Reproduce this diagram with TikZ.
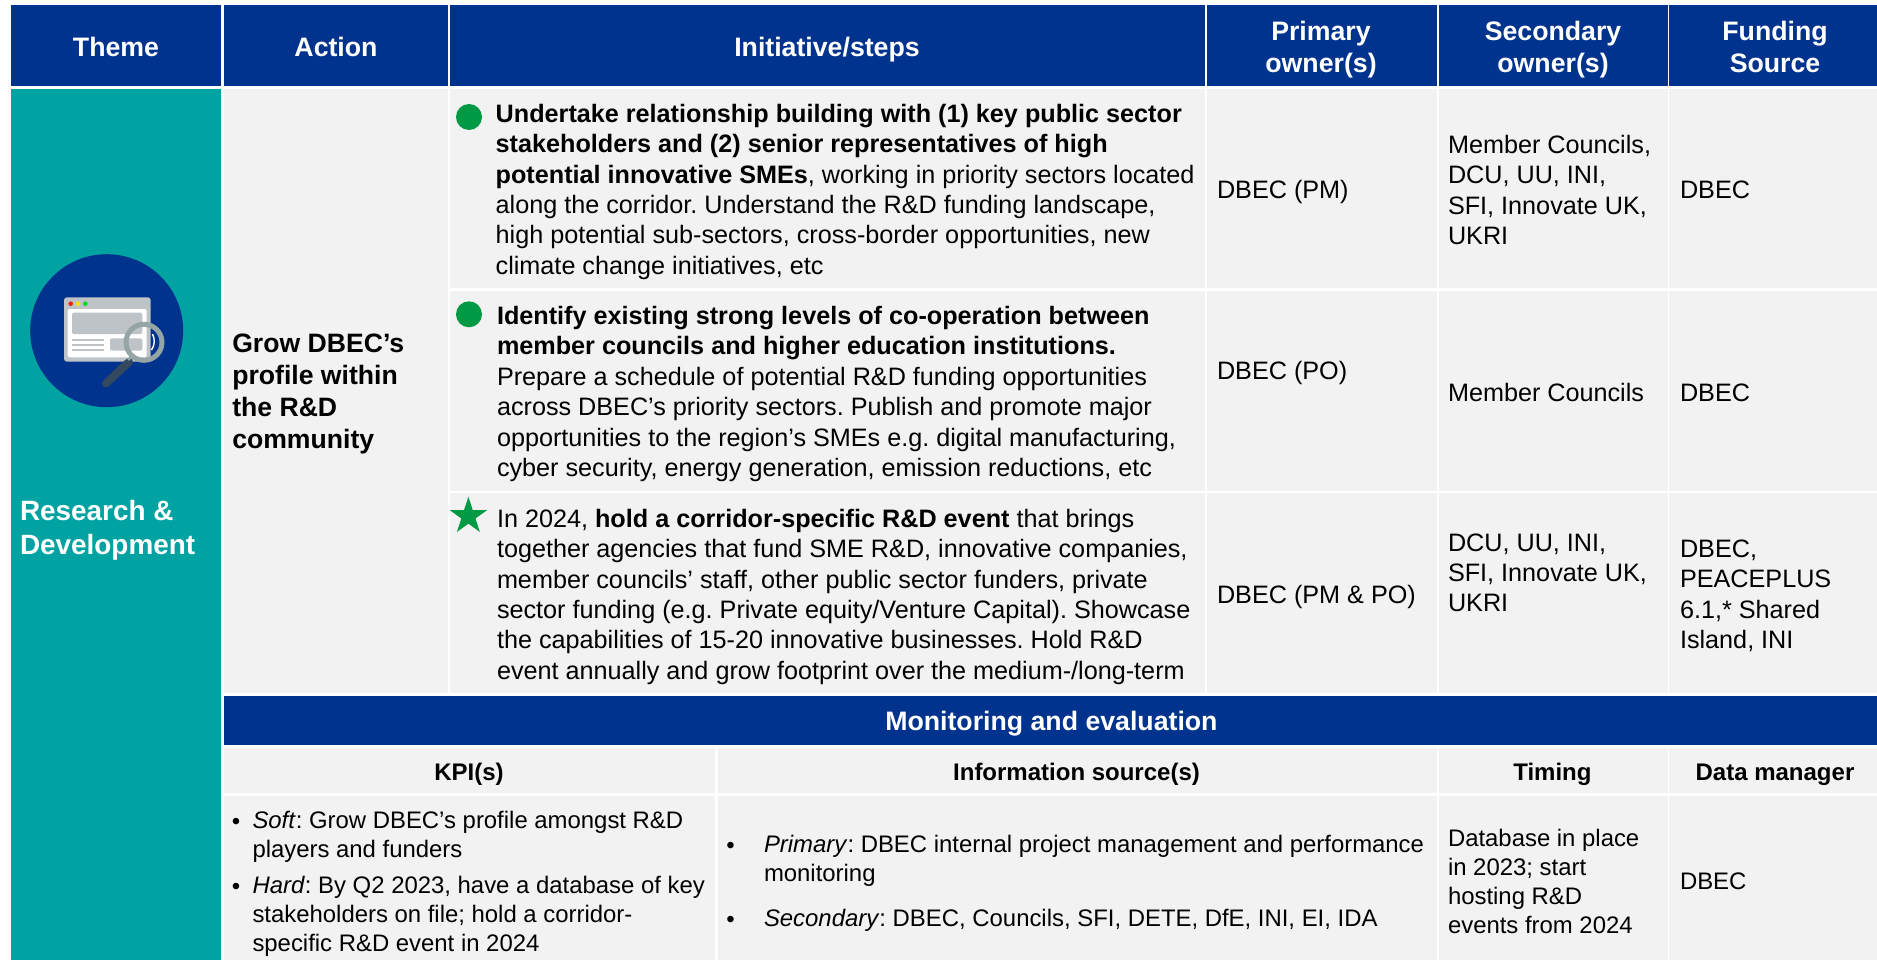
\documentclass[tikz,border=0pt]{standalone}
\usepackage{fontspec}
\setmainfont{Liberation Sans}
\usetikzlibrary{shapes.geometric}
\definecolor{navy}{HTML}{00338D}
\definecolor{teal2}{HTML}{00A3A1}
\definecolor{cellgrey}{HTML}{F2F2F2}
\definecolor{mark}{HTML}{009A44}
\definecolor{winGrey}{HTML}{BDC3C7}
\definecolor{ringGrey}{HTML}{95A5A6}
\definecolor{handle}{HTML}{34495E}
\tikzset{
  x=1pt,y=-1pt,
  every node/.append style={execute at begin node=\frenchspacing},
  navycell/.style={fill=navy,draw=none},
  greycell/.style={fill=cellgrey,draw=none},
  txt/.style={inner sep=0pt,outer sep=0pt,text=black},
  body/.style={txt,anchor=north west,align=left,font=\fontsize{25.2}{30.4}\selectfont,yshift=21.28pt},
  small/.style={txt,anchor=north west,align=left,font=\fontsize{23.9}{29}\selectfont,yshift=20.3pt},
  one/.style={txt,anchor=base west,font=\fontsize{25.2}{30}\selectfont},
  headtxt/.style={txt,anchor=base,text=white,font=\fontsize{26.7}{31.7}\selectfont\bfseries},
  headtwo/.style={txt,anchor=north,align=center,text=white,font=\fontsize{26.7}{31.7}\selectfont\bfseries,yshift=22.19pt},
  subhead/.style={txt,anchor=base,font=\fontsize{24}{29}\selectfont\bfseries},
  bull/.style={txt,anchor=base,font=\fontsize{24}{29}\selectfont},
  dotmark/.style={circle,fill=mark,draw=none,minimum size=26pt,inner sep=0pt},
  starmark/.style={star,star points=5,star point ratio=2.618,fill=mark,draw=none,minimum size=39pt,inner sep=0pt},
}
\begin{document}
\begin{tikzpicture}
\useasboundingbox (0,0) rectangle (1877,960);
\fill[white] (0,0) rectangle (1877,960);
% header band
\fill[navycell] (11,5) rectangle (221,86);
\fill[navycell] (223.5,5) rectangle (447.5,86);
\fill[navycell] (450,5) rectangle (1204.5,86);
\fill[navycell] (1207,5) rectangle (1436.5,86);
\fill[navycell] (1438.7,5) rectangle (1667.6,86);
\fill[navycell] (1669.3,5) rectangle (1877,86);
% theme
\fill[teal2] (11,89) rectangle (221,960);
% action
\fill[greycell] (223.5,89) rectangle (447.5,693);
% rows
\foreach \ya/\yb in {89/288,290.5/491,493/693}{
  \fill[greycell] (450,\ya) rectangle (1204.5,\yb);
  \fill[greycell] (1207,\ya) rectangle (1436.5,\yb);
  \fill[greycell] (1438.7,\ya) rectangle (1667.6,\yb);
  \fill[greycell] (1669.3,\ya) rectangle (1877,\yb);
}
% monitoring band
\fill[navycell] (223.5,695.7) rectangle (1877,745);
\foreach \ya/\yb in {747.5/793,796/960}{
  \fill[greycell] (223.5,\ya) rectangle (715.3,\yb);
  \fill[greycell] (717.7,\ya) rectangle (1436.5,\yb);
  \fill[greycell] (1438.7,\ya) rectangle (1667.6,\yb);
  \fill[greycell] (1669.3,\ya) rectangle (1877,\yb);
}
% icon
\fill[navy] (106.7,330.7) circle (76.5);
\fill[winGrey,rounded corners=3pt] (64,297.3) rectangle (150.7,361.7);
\fill[white,rounded corners=1.5pt] (67.7,309) rectangle (146.7,357.3);
\fill[winGrey,rounded corners=1.5pt] (72,312.7) rectangle (142.3,334);
\fill[winGrey,rounded corners=1.5pt] (110,338.3) rectangle (142.3,350.7);
\foreach \yy in {340,345,350}{\fill[winGrey] (72,\yy-1) rectangle (104.3,\yy+1);}
\fill[red!75!orange] (70.7,303.7) circle (2.3);
\fill[yellow!85!orange] (78,303.7) circle (2.3);
\fill[green!70!teal] (85.3,303.7) circle (2.3);
\draw[white,line width=1.4pt] (152.5,334) .. controls (155,339) and (155,345) .. (151.5,350);
\draw[handle,line width=8pt,line cap=round] (129,362) -- (106,383.5);
\draw[ringGrey,line width=2.5pt] (132,356) -- (128,360);
\draw[ringGrey,line width=5pt] (144,342.3) circle (18);
% header texts
\node[headtxt] (hTheme) at (116,56.5) {Theme};
\node[headtxt] (hAction) at (336,56.5) {Action};
\node[headtxt] (hInit) at (827,56.5) {Initiative/steps};
\node[headtwo] (hPrim) at (1321,40.5) {\strut Primary\\owner(s)};
\node[headtwo] (hSec) at (1553,40.5) {\strut Secondary\\owner(s)};
\node[headtwo] (hFund) at (1775,40.5) {\strut Funding\\Source};
% theme and action text
\node[txt,anchor=north west,align=left,text=white,font=\fontsize{27.9}{33.4}\selectfont\bfseries,yshift=23.38pt] (theme) at (20,520.7) {\strut Research \&\\Development};
\node[txt,anchor=north west,align=left,font=\fontsize{26.6}{32}\selectfont\bfseries,yshift=22.4pt] (action) at (232.3,352.7) {\strut Grow DBEC’s\\profile within\\the R\&D\\community};
% status marks
\node[dotmark] (m1) at (469,117) {};
\node[dotmark] (m2) at (469,314.3) {};
\node[starmark] (m3) at (468.4,516.2) {};
% initiatives
\node[body] (i1) at (495.7,122.2) {\strut\textbf{Undertake relationship building with (1) key public sector}\\\textbf{stakeholders and (2) senior representatives of high}\\\textbf{potential innovative SMEs}, working in priority sectors located\\along the corridor. Understand the R\&D funding landscape,\\high potential sub-sectors, cross-border opportunities, new\\climate change initiatives, etc};
\node[body] (i2) at (497,324.5) {\strut\textbf{Identify existing strong levels of co-operation between}\\\textbf{member councils and higher education institutions.}\\Prepare a schedule of potential R\&D funding opportunities\\across DBEC’s priority sectors. Publish and promote major\\opportunities to the region’s SMEs e.g. digital manufacturing,\\cyber security, energy generation, emission reductions, etc};
\node[body] (i3) at (497,527.3) {\strut In 2024, \textbf{hold a corridor-specific R\&D event} that brings\\together agencies that fund SME R\&D, innovative companies,\\member councils’ staff, other public sector funders, private\\sector funding (e.g. Private equity/Venture Capital). Showcase\\the capabilities of 15-20 innovative businesses. Hold R\&D\\event annually and grow footprint over the medium-/long-term};
% owners
\node[one] (p1) at (1217,199) {DBEC (PM)};
\node[one] (p2) at (1217,379) {DBEC (PO)};
\node[one] (p3) at (1217,603) {DBEC (PM \& PO)};
\node[body] (s1) at (1448,153.3) {\strut Member Councils,\\DCU, UU, INI,\\SFI, Innovate UK,\\UKRI};
\node[one] (s2) at (1448,401) {Member Councils};
\node[body] (s3) at (1448,551) {\strut DCU, UU, INI,\\SFI, Innovate UK,\\UKRI};
\node[one] (f1) at (1680,199) {DBEC};
\node[one] (f2) at (1680,401) {DBEC};
\node[body] (f3) at (1680,557.3) {\strut DBEC,\\PEACEPLUS\\6.1,* Shared\\Island, INI};
% monitoring
\node[headtxt] (mHead) at (1051.4,730) {Monitoring and evaluation};
\node[subhead] (kHead) at (469,780) {KPI(s)};
\node[subhead] (iHead) at (1076.5,780) {Information source(s)};
\node[subhead] (tHead) at (1552.4,780) {Timing};
\node[subhead] (dHead) at (1775,780) {Data manager};
\node[bull] (kb1) at (236,829) {•};
\node[small] (k1) at (252.5,828.3) {\strut\textit{Soft}: Grow DBEC’s profile amongst R\&D\\players and funders};
\node[bull] (kb2) at (236,894) {•};
\node[small] (k2) at (252.5,893.3) {\strut\textit{Hard}: By Q2 2023, have a database of key\\stakeholders on file; hold a corridor-\\specific R\&D event in 2024};
\node[bull] (ib1) at (730.5,853) {•};
\node[small] (is1) at (764,852.3) {\strut\textit{Primary}: DBEC internal project management and performance\\monitoring};
\node[bull] (ib2) at (730.5,927.4) {•};
\node[small] (is2) at (764,926.7) {\strut\textit{Secondary}: DBEC, Councils, SFI, DETE, DfE, INI, EI, IDA};
\node[small] (tm) at (1448,846.7) {\strut Database in place\\in 2023; start\\hosting R\&D\\events from 2024};
\node[txt,anchor=base west,font=\fontsize{23.9}{29}\selectfont] (dm) at (1680,889.3) {DBEC};
\end{tikzpicture}
\end{document}
